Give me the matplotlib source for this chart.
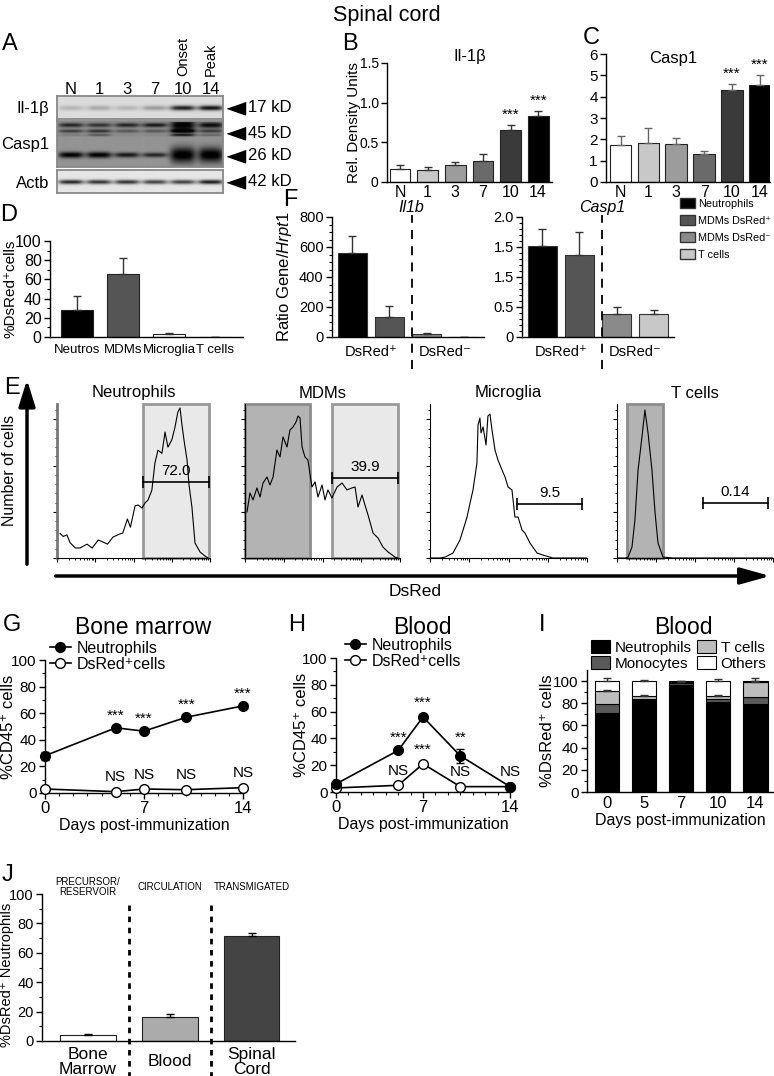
import numpy as np
import matplotlib
matplotlib.use("Agg")
import matplotlib.pyplot as plt
from matplotlib.patches import Rectangle, Patch
from matplotlib.lines import Line2D

plt.rcParams['font.family'] = ['Liberation Sans', 'DejaVu Sans']
plt.rcParams['mathtext.fontset'] = 'custom'
plt.rcParams['mathtext.rm'] = 'Liberation Sans'
plt.rcParams['mathtext.it'] = 'Liberation Sans:italic'
plt.rcParams['axes.linewidth'] = 1.0

W, H = 774, 1076

# ---------------- data ----------------
# A - western blot band intensities (0 = none, 1 = saturated)
lanes = ["N", "1", "3", "7", "10", "14"]
il1b_band = [0.15, 0.2, 0.15, 0.25, 0.75, 0.8]
casp1_band_a = [0.45, 0.4, 0.45, 0.5, 0.6, 0.55]
casp1_band_b = [0.35, 0.4, 0.25, 0.25, 0.6, 0.35]
casp1_band_c = [0.1, 0.25, 0.05, 0.05, 0.5, 0.2]
casp1_band_26 = [0.6, 0.6, 0.5, 0.45, 0.62, 0.62]
actb_band = [0.75, 0.7, 0.7, 0.65, 0.65, 0.8]

# B / C - densitometry
il1b_mean = [0.17, 0.15, 0.21, 0.27, 0.65, 0.83]
il1b_err = [0.04, 0.04, 0.04, 0.08, 0.07, 0.07]
casp1_mean = [1.72, 1.82, 1.76, 1.30, 4.32, 4.55]
casp1_err = [0.45, 0.70, 0.30, 0.15, 0.28, 0.48]
bc_stars = ["", "", "", "", "***", "***"]

# D
d_cells = ["Neutros", "MDMs", "Microglia", "T cells"]
d_mean = [28, 66, 3.5, 0]
d_err = [15, 16, 0.8, 0]

# F
f_groups = ["Neutrophils", "MDMs DsRed⁺", "MDMs DsRed⁻", "T cells"]
f_il1b = [560, 135, 20, 1]
f_il1b_err = [115, 70, 5, 0]
f_casp1 = [1.52, 1.37, 0.38, 0.38]
f_casp1_err = [0.28, 0.38, 0.12, 0.07]
f_casp1_ticklabels = ["0", "0.5", "1.5", "1.5", "2.0"]

# E - histograms (DsRed scale 0-100, % of max count)
neut_x = [2, 4, 6.5, 8.5, 12, 15, 19.6, 23, 27, 30, 33, 36.6, 41, 43, 46, 48, 51, 53, 55.6, 57.5,
          59.5, 62, 64, 66, 68.6, 70.6, 72.5, 75, 77, 79, 80.4, 81.7, 83, 85, 86.3, 88.2, 90.2, 93.5, 96.7, 98.7]
neut_y = [16, 14, 15, 10, 6.5, 6.5, 9, 6.5, 11.7, 10.4, 9, 13.6, 15.6, 16.2, 25.3, 20, 33.8, 34.4, 32.5, 35.7,
          37.7, 44, 61.7, 70, 68, 81.8, 72, 76.6, 84.4, 94.8, 97.4, 86.4, 76.6, 63.6, 47.4, 33, 9.7, 3.9, 1.3, 0]
mdm_x = [1.3, 3.2, 5.2, 7.7, 9.7, 11.6, 14.2, 16.1, 18.1, 20.6, 22.6, 24.5, 27.1, 29, 31, 32.9, 34.2, 35.5,
         36.8, 38.7, 40.6, 43.2, 45.2, 47.1, 49.7, 51.6, 53.5, 56.1, 59.4, 62.6, 65.8, 69, 71, 72.9, 75.5,
         77.4, 79.4, 82.6, 85.8, 89, 92.3, 96.8, 98.7]
mdm_y = [29.9, 42.2, 37.7, 45.5, 39.6, 48.7, 52.6, 47.4, 52.6, 70.1, 65.6, 78.6, 72.1, 83.1, 85.1, 88.3, 92.2,
         90.9, 72.1, 65.6, 63.6, 46.1, 49.4, 39.6, 47.4, 37.7, 44.2, 39, 46.1, 48.7, 44.2, 45.5, 46.1, 33.1,
         40.9, 34.4, 27.9, 16.2, 13, 7.1, 3.9, 0.6, 0]
mic_x = [0, 6.4, 9.6, 14.6, 19.1, 23.6, 25.5, 27.4, 29.9, 30.6, 31.8, 32.5, 33.8, 35.7, 36.9, 38.2, 39.5,
         41.4, 43.3, 45.9, 47.8, 49.7, 52.2, 54.1, 56.1, 58.6, 60.5, 63.7, 68.2, 72, 78.3, 100]
mic_y = [0, 0, 0.6, 3.2, 11.7, 26.6, 35.7, 44.2, 61.7, 86.4, 90.9, 81.2, 85.1, 73.4, 92.2, 93.5, 83.1,
         70.1, 63.6, 57.1, 52.6, 46.1, 44.2, 26.6, 26.6, 18.2, 16.2, 9.7, 3.2, 1.9, 0, 0]
tc_x = [0, 5.1, 7.1, 9.6, 11.5, 13.5, 16, 17.9, 19.9, 22.4, 24.4, 26.3, 29.5, 35.9, 100]
tc_y = [0, 0, 0.6, 7.1, 24.7, 57.1, 78.6, 96.1, 81.2, 57.1, 29.2, 9.7, 0.6, 0, 0]
hist_titles = ["Neutrophils", "MDMs", "Microglia", "T cells"]
gate_pct = ["72.0", "39.9", "9.5", "0.14"]
gate_range = [(56.2, 99.3), (56.1, 98.7), (55.4, 96.8), (55.1, 96.8)]
gate_level = [49.4, 52, 35, 35.7]
light_gates = [(0, 56.2, 99.3), (1, 56.1, 98.7)]
dark_gates = [(1, 0, 41.9), (3, 6.4, 29.5)]

# G / H
days = [0, 5, 7, 10, 14]
bm_neut = [28, 49, 46.5, 57, 65.5]
bm_neut_err = [3, 1, 1, 1, 1]
bm_dsred = [3, 1, 3, 2.5, 4]
bm_neut_sig = ["", "***", "***", "***", "***"]
bm_dsred_sig = ["", "NS", "NS", "NS", "NS"]
bl_neut = [6, 31, 56, 27, 4]
bl_neut_err = [1.5, 1.5, 2, 5, 1]
bl_dsred = [3, 5, 21, 4, 4]
bl_neut_sig = ["", "***", "***", "**", ""]
bl_dsred_sig = ["", "NS", "***", "NS", "NS"]

# I - composition of DsRed+ blood cells
i_days = ["0", "5", "7", "10", "14"]
i_neut = [71, 83, 96.5, 81, 79.5]
i_mono = [8, 1, 1.5, 3, 6]
i_tcell = [12, 3, 1, 3, 14]
i_other = [9, 13, 1, 13, 0.5]
i_tcell_err = [0.8, 0.5, 0.3, 0.6, 0.5]
i_other_err = [3, 1, 0.5, 2, 3]

# J
j_sites = ["Bone\nMarrow", "Blood", "Spinal\nCord"]
j_mean = [4, 16, 71.5]
j_err = [0.5, 2.5, 2]
j_roles = ["PRECURSOR/\nRESERVOIR", "CIRCULATION", "TRANSMIGATED"]

# ---------------- figure ----------------
fig = plt.figure(figsize=(W / 100, H / 100), dpi=100)


def px_axes(x0, y0, x1, y1):
    return fig.add_axes([x0 / W, 1 - y1 / H, (x1 - x0) / W, (y1 - y0) / H])


def prism(ax, size=11):
    ax.spines['top'].set_visible(False)
    ax.spines['right'].set_visible(False)
    ax.tick_params(direction='out', length=4, width=1, labelsize=size, pad=2)
    ax.tick_params(which='minor', direction='out', length=2, width=0.8)


def ylabel_at(ax, text, xpx, size, yfrac=0.5):
    # y label centred on figure pixel column xpx
    ax.set_ylabel(text, fontsize=size)
    pos = ax.get_position()
    ax.yaxis.set_label_coords((xpx - pos.x0 * W) / (pos.width * W), yfrac)
    ax.yaxis.label.set_va('center')


def stars(ax, xs, ys, labels, off=2, size=11):
    for x, y, s in zip(xs, ys, labels):
        if s:
            ax.annotate(s, (x, y), xytext=(0, off), textcoords='offset points',
                        ha='center', va='bottom', fontsize=size, annotation_clip=False)


err_kw = dict(ecolor='#333333', capsize=3, elinewidth=1, capthick=1)

# ---- A: western blot ----
def draw_blot(ax, bg, bands, height):
    gx = np.linspace(-0.5, 5.43, 400)
    gy = np.linspace(0, height, int(height * 4))
    img = np.full((gy.size, gx.size), bg)
    for ypos, sig, inten in bands:
        for i in range(len(lanes)):
            px_ = np.exp(-((gx - i) / 0.45) ** 4)
            py_ = np.exp(-((gy - ypos) / sig[i]) ** 2)
            img -= inten[i] * np.outer(py_, px_)
    img = np.clip(img, 0, 1)
    ax.imshow(img, cmap='gray', vmin=0, vmax=1, extent=(-0.5, 5.43, height, 0),
              aspect='auto', interpolation='bilinear')
    ax.set_xlim(-0.5, 5.43)
    ax.set_ylim(height, 0)
    ax.set_xticks([])
    ax.set_yticks([])
    for s in ax.spines.values():
        s.set_color('#888888')
        s.set_linewidth(1.3)


ax_il = px_axes(57, 96, 223, 119)
draw_blot(ax_il, 0.86, [(12, [2.5] * 6, il1b_band)], 23)
ax_cp = px_axes(57, 121, 223, 167)
draw_blot(ax_cp, 0.58, [(4, [2.2, 2.2, 2.2, 2.2, 6, 3], casp1_band_a),
                        (10, [1.8] * 6, casp1_band_b),
                        (14, [1.2] * 6, casp1_band_c),
                        (34, [3, 3, 2.5, 2.3, 8, 7.5], casp1_band_26)], 46)
ax_ac = px_axes(57, 170, 223, 193)
draw_blot(ax_ac, 0.9, [(12, [2.2] * 6, actb_band)], 23)
for i, lab in enumerate(lanes):
    ax_il.text(i, -7, lab, ha='center', va='center', fontsize=12)
ax_il.text(4, -20, "Onset", rotation=90, ha='center', va='bottom', fontsize=10.5)
ax_il.text(5, -20, "Peak", rotation=90, ha='center', va='bottom', fontsize=10.5)

# ---- B ----
axB = px_axes(387, 63, 552, 182)
prism(axB, 10)
xb = np.arange(len(lanes))
shades6 = ['white', '#c8c8c8', '#9c9c9c', '#6a6a6a', '#3a3a3a', 'black']
axB.bar(xb, il1b_mean, width=0.75, color=shades6, edgecolor='#222222', linewidth=0.8,
        yerr=[np.zeros(6), il1b_err], error_kw=err_kw)
axB.set_xlim(-0.47, 5.5)
axB.set_ylim(0, 1.5)
axB.set_yticks([0, 0.5, 1.0, 1.5], ['0', '0.5', '1.0', '1.5'])
axB.set_xticks(xb, lanes)
axB.tick_params(axis='x', length=0, pad=2, labelsize=11.5)
ylabel_at(axB, "Rel. Density Units", 354, 11)
stars(axB, xb, np.add(il1b_mean, il1b_err), bc_stars)

# ---- C ----
axC = px_axes(606, 54, 770, 182)
prism(axC, 11)
axC.bar(xb, casp1_mean, width=0.78, color=shades6, edgecolor='#222222', linewidth=0.8,
        yerr=[np.zeros(6), casp1_err], error_kw=dict(err_kw, ecolor='#666666'))
axC.set_xlim(-0.52, 5.36)
axC.set_ylim(0, 6)
axC.set_yticks(range(7))
axC.set_xticks(xb, lanes)
axC.tick_params(axis='x', length=0, pad=2, labelsize=11.5)
stars(axC, xb, np.add(casp1_mean, casp1_err), bc_stars)

# ---- D ----
axD = px_axes(50, 241, 243, 337)
prism(axD, 11.5)
xd = np.arange(len(d_cells))
axD.bar(xd, d_mean, width=0.7, color=['black', '#555555', 'white', 'white'],
        edgecolor='#222222', linewidth=0.8, yerr=[np.zeros(4), d_err], error_kw=err_kw)
axD.set_xlim(-0.59, 3.6)
axD.set_ylim(0, 100)
axD.set_yticks(range(0, 101, 20))
axD.set_yticks(range(0, 101, 10), minor=True)
axD.set_xticks(xd, d_cells)
axD.tick_params(axis='x', length=0, pad=5, labelsize=9.5)
ylabel_at(axD, "%DsRed⁺cells", 11, 11)

# ---- F ----
f_colors = ['black', '#555555', '#8a8a8a', '#c8c8c8']
xf = np.arange(4)
axF1 = px_axes(332, 217, 484, 337)
axF2 = px_axes(522, 217, 674, 337)
for ax, vals, errs, title in [(axF1, f_il1b, f_il1b_err, "Il1b"), (axF2, f_casp1, f_casp1_err, "Casp1")]:
    prism(ax, 10.5)
    ax.bar(xf, vals, width=0.8, color=f_colors, edgecolor='#333333', linewidth=0.8,
           yerr=[np.zeros(4), errs], error_kw=err_kw)
    ax.set_xlim(-0.55, 3.55)
    ax.set_xticks([0.5, 2.5], ["DsRed⁺", "DsRed⁻"])
    ax.tick_params(axis='x', length=0, pad=6, labelsize=10.5)
    ax.plot([1.6, 1.6], [-0.27, 1.02], transform=ax.get_xaxis_transform(), color='k',
            lw=1.3, ls=(0, (5, 4)), clip_on=False)
    ax.text(1.6, 1.08, title, transform=ax.get_xaxis_transform(), ha='center', va='center',
            fontsize=11.5, style='italic')
axF1.set_ylim(0, 800)
axF1.set_yticks(range(0, 801, 200))
axF1.set_yticks(range(0, 801, 50), minor=True)
axF2.set_ylim(0, 2)
axF2.set_yticks([0, 0.5, 1.0, 1.5, 2.0], f_casp1_ticklabels)
axF2.set_yticks(np.arange(0, 2.01, 0.1), minor=True)
ylabel_at(axF1, "Ratio Gene/$\\it{Hrpt1}$", 284, 12)
fig.legend(handles=[Patch(facecolor=c, edgecolor='#333333', label=l) for c, l in zip(f_colors, f_groups)],
           loc='upper left', bbox_to_anchor=(680 / W, 1 - 198 / H), fontsize=7.8, frameon=False,
           handlelength=1.4, handleheight=1.0, handletextpad=0.3, labelspacing=0.6,
           borderpad=0, borderaxespad=0)

# ---- E: histograms ----
hist_boxes = [(57, 404, 210, 558), (245, 404, 400, 558), (430, 404, 587, 558), (617, 404, 773, 558)]
curves = [(neut_x, neut_y), (mdm_x, mdm_y), (mic_x, mic_y), (tc_x, tc_y)]
dec_major = [25 * d for d in range(5)]
dec_minor = [25 * d + 25 * np.log10(k) for d in range(4) for k in range(2, 10)]
hax = []
for box, (cx, cy) in zip(hist_boxes, curves):
    ax = px_axes(*box)
    hax.append(ax)
    ax.set_xlim(0, 100)
    ax.set_ylim(0, 100)
    ax.spines['top'].set_visible(False)
    ax.spines['right'].set_visible(False)
    ax.spines['left'].set_linewidth(0.8)
    ax.spines['bottom'].set_linewidth(0.8)
    ax.set_xticks(dec_major)
    ax.set_xticks(dec_minor, minor=True)
    ax.set_yticks([0, 30, 60, 90])
    ax.set_yticks(range(0, 101, 6), minor=True)
    ax.tick_params(labelbottom=False, labelleft=False, length=3, width=0.8, direction='out')
    ax.tick_params(which='minor', length=1.5, width=0.6)
    ax.plot(cx, cy, color='k', lw=0.8, zorder=3)
hax[0].spines['left'].set_color('#777777')
hax[0].spines['left'].set_linewidth(2)
for i, a, b in light_gates:
    hax[i].add_patch(Rectangle((a, 0), b - a, 100, facecolor='#e9e9e9', edgecolor='#999999',
                               lw=2, zorder=1, clip_on=False))
for i, a, b in dark_gates:
    hax[i].add_patch(Rectangle((a, 0), b - a, 100, facecolor='#b3b3b3', edgecolor='#8c8c8c',
                               lw=2, zorder=1, clip_on=False))
for ax, (a, b), lvl, pct in zip(hax, gate_range, gate_level, gate_pct):
    ax.plot([a, b], [lvl, lvl], color='k', lw=1.2, marker='|', ms=8, mew=1.2, zorder=4)
    ax.text((a + b) / 2, lvl + 2.5, pct, ha='center', va='bottom', fontsize=11, zorder=4)

# ---- G / H ----
def timecourse(ax, neut, nerr, dsred, nsig, dsig, ylab_x):
    prism(ax, 11)
    ax.errorbar(days, neut, yerr=nerr, fmt='-o', color='k', ms=7, lw=1.2, capsize=3,
                clip_on=False, zorder=3)
    ax.plot(days, dsred, '-o', color='k', mfc='white', ms=7, lw=1.2, clip_on=False, zorder=3)
    ax.set_xlim(0, 14)
    ax.set_ylim(0, 100)
    ax.set_xticks([0, 7, 14])
    ax.set_xticks(range(15), minor=True)
    ax.set_yticks(range(0, 101, 20))
    ax.set_yticks(range(0, 101, 10), minor=True)
    ax.tick_params(axis='x', labelsize=12)
    ax.set_xlabel("Days post-immunization", fontsize=11.5, labelpad=1)
    ylabel_at(ax, "%CD45⁺ cells", ylab_x, 12)
    stars(ax, days, np.add(neut, nerr), nsig, off=3, size=11)
    stars(ax, days, np.add(dsred, 2.5), dsig, off=3, size=11)


axG = px_axes(45, 660, 243, 793)
timecourse(axG, bm_neut, bm_neut_err, bm_dsred, bm_neut_sig, bm_dsred_sig, 9)
axH = px_axes(336, 658, 510, 792)
timecourse(axH, bl_neut, bl_neut_err, bl_dsred, bl_neut_sig, bl_dsred_sig, 301)
line_handles = [Line2D([], [], color='k', marker='o', ms=7, lw=1.2, label='Neutrophils'),
                Line2D([], [], color='k', marker='o', mfc='white', ms=7, lw=1.2, label='DsRed⁺cells')]
for x0, y0 in [(50, 641), (345, 638)]:
    fig.legend(handles=line_handles, loc='upper left', bbox_to_anchor=(x0 / W, 1 - y0 / H),
               fontsize=11.5, frameon=False, handlelength=1.3, handletextpad=0.4, labelspacing=0.05,
               borderpad=0, borderaxespad=0)

# ---- I ----
axI = px_axes(587, 670, 774, 792)
prism(axI, 11)
xi = np.arange(len(i_days))
b1 = axI.bar(xi, i_neut, width=0.65, color='black', edgecolor='k', lw=0.8, label='Neutrophils')
bot = np.array(i_neut, dtype=float)
b2 = axI.bar(xi, i_mono, width=0.65, bottom=bot, color='#5a5a5a', edgecolor='k', lw=0.8, label='Monocytes')
bot = bot + i_mono
b3 = axI.bar(xi, i_tcell, width=0.65, bottom=bot, color='#bdbdbd', edgecolor='k', lw=0.8,
             label='T cells', yerr=[np.zeros(5), i_tcell_err], error_kw=err_kw)
bot = bot + i_tcell
b4 = axI.bar(xi, i_other, width=0.65, bottom=bot, color='white', edgecolor='k', lw=0.8,
             label='Others', yerr=[np.zeros(5), i_other_err], error_kw=err_kw)
axI.set_xlim(-0.54, 4.5)
axI.set_ylim(0, 110)
axI.set_yticks(range(0, 101, 20))
axI.set_yticks(range(0, 101, 10), minor=True)
axI.set_xticks(xi, i_days)
axI.tick_params(axis='x', length=0, pad=3, labelsize=12)
axI.set_xlabel("Days post-immunization", fontsize=11.5, labelpad=1)
ylabel_at(axI, "%DsRed⁺ cells", 548, 12)
fig.legend(handles=[b1, b2, b3, b4], ncol=2, loc='upper left', bbox_to_anchor=(591 / W, 1 - 640 / H),
           fontsize=11, frameon=False, handlelength=1.25, handleheight=0.9, handletextpad=0.3,
           labelspacing=0.1, columnspacing=0.35, borderpad=0, borderaxespad=0)

# ---- J ----
axJ = px_axes(42, 894, 295, 1041)
prism(axJ, 10.5)
xj = np.arange(len(j_sites))
axJ.bar(xj, j_mean, width=0.68, color=['white', '#ababab', '#444444'], edgecolor='#222222',
        linewidth=0.8, yerr=[np.zeros(3), j_err], error_kw=dict(err_kw, ecolor='k'))
axJ.set_xlim(-0.56, 2.53)
axJ.set_ylim(0, 100)
axJ.set_yticks(range(0, 101, 20))
axJ.set_yticks(range(0, 101, 10), minor=True)
axJ.set_xticks(xj, j_sites)
axJ.tick_params(axis='x', length=0, pad=15, labelsize=12.5)
for t in axJ.get_xticklabels():
    t.set_va('center')
    t.set_linespacing(1.0)
for xv in [0.5, 1.5]:
    axJ.plot([xv, xv], [0.925, -0.26], transform=axJ.get_xaxis_transform(), color='k', lw=2,
             ls=(0, (2, 2)), clip_on=False)
for xv, role in zip(xj, j_roles):
    axJ.text(xv, 1.048, role, transform=axJ.get_xaxis_transform(), ha='center', va='center',
             fontsize=7, linespacing=1.0)
ylabel_at(axJ, "%DsRed⁺ Neutrophils", 7, 10.5, yfrac=0.45)

# ---------------- overlay texts / arrows ----------------
ov = fig.add_axes([0, 0, 1, 1])
ov.set_xlim(0, W)
ov.set_ylim(H, 0)
ov.axis('off')
ov.patch.set_alpha(0)

ov.text(387, 15, "Spinal cord", ha='center', va='center', fontsize=15.5)
for letter, x, y in [("A", 10, 44), ("B", 350, 44), ("C", 591, 38), ("D", 9, 215), ("F", 290, 200),
                     ("E", 12, 388), ("G", 12, 625), ("H", 297, 625), ("I", 542, 625), ("J", 8, 875)]:
    ov.text(x, y, letter, ha='center', va='center', fontsize=17)

# blot row labels and size markers
for lab, y in [("Il-1β", 108), ("Casp1", 145), ("Actb", 183)]:
    ov.text(49, y, lab, ha='right', va='center', fontsize=12)
tri = [(-1, 0), (1, -0.7), (1, 0.7)]
for kd, y in [("17 kD", 108), ("45 kD", 133), ("26 kD", 156), ("42 kD", 182)]:
    ov.plot(236, y, marker=tri, ms=13, color='k', mec='k')
    ov.text(248, y, kd, ha='left', va='center', fontsize=12)

ov.text(470, 57, "Il-1β", ha='center', va='center', fontsize=12)
ov.text(673, 58, "Casp1", ha='center', va='center', fontsize=12)

# E titles and axes arrows
for t, box in zip(hist_titles, hist_boxes):
    ov.text((box[0] + box[2]) / 2, 393, t, ha='center', va='center', fontsize=12)
ov.annotate('', xy=(27, 377), xytext=(27, 567),
            arrowprops=dict(arrowstyle='-|>,head_length=1.6,head_width=0.5', lw=2.5, color='k'))
ov.annotate('', xy=(773, 576), xytext=(53, 576),
            arrowprops=dict(arrowstyle='-|>,head_length=1.8,head_width=0.5', lw=2.5, color='k'))
ov.text(10, 470, "Number of cells", rotation=90, ha='center', va='center', fontsize=11.5)
ov.text(415, 592, "DsRed", ha='center', va='center', fontsize=12.5)

ov.text(143, 627, "Bone marrow", ha='center', va='center', fontsize=16.5)
ov.text(422, 627, "Blood", ha='center', va='center', fontsize=16.5)
ov.text(683, 627, "Blood", ha='center', va='center', fontsize=16.5)

fig.savefig("out.png", dpi=100)
